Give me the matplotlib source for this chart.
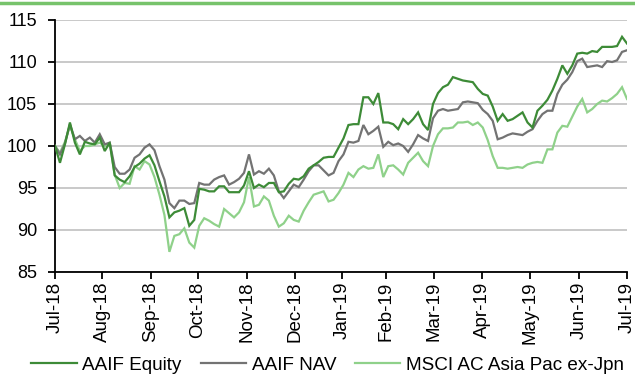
import numpy as np
import matplotlib
matplotlib.use("Agg")
import matplotlib.pyplot as plt
from matplotlib import font_manager
from matplotlib.lines import Line2D

# ---------------- data ----------------
month_labels = ["Jul-18", "Aug-18", "Sep-18", "Oct-18", "Nov-18", "Dec-18", "Jan-19",
                "Feb-19", "Mar-19", "Apr-19", "May-19", "Jun-19", "Jul-19"]

aaif_equity = [
    100.0, 98.0, 100.2, 102.8, 100.4, 99.0, 100.5, 100.3, 100.2, 101.0,
    99.4, 100.4, 96.5, 96.0, 95.7, 96.4, 97.5, 97.9, 98.5, 98.9,
    97.7, 95.8, 94.0, 91.5, 92.1, 92.3, 92.6, 90.5, 91.2, 94.9,
    94.8, 94.6, 94.6, 95.2, 95.2, 94.5, 94.5, 94.5, 95.3, 97.0,
    95.0, 95.4, 95.1, 95.6, 95.6, 94.5, 94.6, 95.5, 96.1, 96.0,
    96.4, 97.3, 97.7, 98.1, 98.6, 98.7, 98.7, 99.8, 100.9, 102.5,
    102.6, 102.6, 105.8, 105.8, 105.0, 106.3, 102.8, 102.8, 102.6, 102.0,
    103.2, 102.6, 103.2, 104.0, 102.6, 101.9, 105.0, 106.3, 107.0, 107.3,
    108.2, 108.0, 107.8, 107.7, 107.6, 106.8, 106.2, 106.0, 104.7, 103.0,
    103.8, 103.0, 103.2, 103.6, 104.0, 102.8, 102.2, 104.2, 104.8, 105.5,
    106.6, 108.0, 109.6, 108.6, 109.6, 111.0, 111.1, 111.0, 111.3, 111.2,
    111.8, 111.8, 111.8, 111.9, 113.0, 112.2,
]

aaif_nav = [
    100.0, 99.0, 100.3, 102.6, 100.8, 101.2, 100.6, 101.0, 100.4, 101.4,
    100.2, 100.4, 97.5, 96.7, 96.7, 97.2, 98.6, 99.0, 99.8, 100.2,
    99.5, 97.6, 96.0, 93.2, 92.6, 93.5, 93.5, 93.1, 93.2, 95.6,
    95.4, 95.4, 96.0, 96.3, 96.5, 95.4, 95.7, 96.1, 96.8, 99.0,
    96.6, 97.0, 96.7, 97.3, 96.5, 94.6, 93.8, 94.6, 95.4, 95.1,
    96.0, 97.0, 97.7, 97.7, 97.1, 96.5, 96.8, 98.2, 99.0, 100.5,
    100.4, 100.6, 102.5, 101.4, 101.8, 102.3, 99.9, 100.5, 100.1, 100.3,
    100.0, 99.3, 100.2, 101.3, 100.9, 100.6, 103.3, 104.2, 104.4, 104.2,
    104.3, 104.4, 105.2, 105.3, 105.2, 105.1, 104.3, 103.8, 103.0, 100.8,
    101.0, 101.3, 101.5, 101.4, 101.3, 101.7, 102.0, 103.0, 103.8, 104.2,
    104.2, 106.2, 107.3, 107.9, 108.8, 110.1, 110.4, 109.4, 109.5, 109.6,
    109.4, 110.1, 110.0, 110.2, 111.2, 111.4,
]

msci = [
    100.0, 99.2, 100.5, 102.4, 100.8, 99.4, 100.0, 100.0, 100.2, 100.4,
    100.0, 100.4, 96.6, 95.0, 95.6, 95.5, 97.6, 97.2, 98.2, 97.8,
    96.3, 94.2, 91.8, 87.4, 89.3, 89.5, 90.2, 88.5, 87.9, 90.5,
    91.4, 91.1, 90.7, 90.4, 92.5, 92.0, 91.5, 92.1, 93.3, 96.3,
    92.8, 93.0, 94.0, 93.5, 91.7, 90.4, 90.8, 91.7, 91.2, 91.0,
    92.3, 93.3, 94.2, 94.4, 94.6, 93.4, 93.6, 94.4, 95.4, 96.8,
    96.3, 97.2, 97.6, 97.3, 97.4, 99.0, 96.3, 97.6, 97.7, 97.2,
    96.6, 98.0, 98.6, 99.2, 98.2, 97.6, 100.0, 101.4, 102.1, 102.1,
    102.2, 102.8, 102.8, 102.9, 102.5, 102.8, 102.2, 100.7, 98.8, 97.4,
    97.4, 97.3, 97.4, 97.5, 97.4, 97.8, 98.0, 98.1, 98.0, 99.6,
    99.6, 101.6, 102.4, 102.3, 103.5, 104.7, 105.6, 104.0, 104.4, 105.0,
    105.4, 105.3, 105.7, 106.2, 107.0, 105.6,
]

series_names = ["AAIF Equity", "AAIF NAV", "MSCI AC Asia Pac ex-Jpn"]

# ---------------- style ----------------
names = {f.name for f in font_manager.fontManager.ttflist}
if "Liberation Sans Narrow" in names:
    fam = ["Liberation Sans Narrow", "Liberation Sans", "DejaVu Sans"]
    ytick_fs, xtick_fs, leg_fs = 14, 15, 16
else:
    fam = ["Liberation Sans", "DejaVu Sans"]
    ytick_fs, xtick_fs, leg_fs = 13, 13.5, 13.6
plt.rcParams["font.family"] = fam

colors = ["#3d8b37", "#737373", "#8fd18a"]
W, H = 635, 376
fig = plt.figure(figsize=(W / 100, H / 100), dpi=100)
ax = fig.add_axes([55 / W, 1 - 272 / H, 572 / W, 252 / H])

n = len(aaif_equity)
x = np.linspace(0, 1, n)
for vals, c in [(msci, colors[2]), (aaif_nav, colors[1]), (aaif_equity, colors[0])]:
    ax.plot(x, vals, color=c, lw=1.6, solid_joinstyle="miter", zorder=3)

ax.set_xlim(0, 1)
ax.set_ylim(85, 115)
ax.set_yticks(np.arange(85, 116, 5))
ax.yaxis.grid(True, color="#c0c0c0", lw=1.2, zorder=0)
ax.set_axisbelow(True)

tick_frac = [0, 0.0822, 0.1671, 0.2500, 0.3357, 0.4196, 0.5017,
             0.5787, 0.6626, 0.7465, 0.8304, 0.9161, 1.0]
ax.set_xticks(tick_frac)
ax.set_xticklabels(month_labels, rotation=90, fontsize=xtick_fs)
for lbl in ax.get_yticklabels():
    lbl.set_fontsize(ytick_fs)

for s in ["top", "right"]:
    ax.spines[s].set_visible(False)
for s in ["left", "bottom"]:
    ax.spines[s].set_color("black")
    ax.spines[s].set_linewidth(1.3)
ax.tick_params(axis="y", direction="out", length=5, width=1.3, pad=8, colors="black")
ax.tick_params(axis="x", direction="out", length=5, width=1.3, pad=2, colors="black")

fig.add_artist(Line2D([0, 1], [1 - 3 / H, 1 - 3 / H], transform=fig.transFigure,
                      color="#77c36b", lw=2.5))

handles = [Line2D([], [], color=c, lw=1.6) for c in colors]
fig.legend(handles, series_names, loc="center", bbox_to_anchor=(0.516, 1 - 365 / H),
           ncol=3, frameon=False, fontsize=leg_fs, handlelength=2.4,
           handletextpad=0.3, columnspacing=1.0, borderaxespad=0, borderpad=0)

fig.savefig("out.png", dpi=100)
